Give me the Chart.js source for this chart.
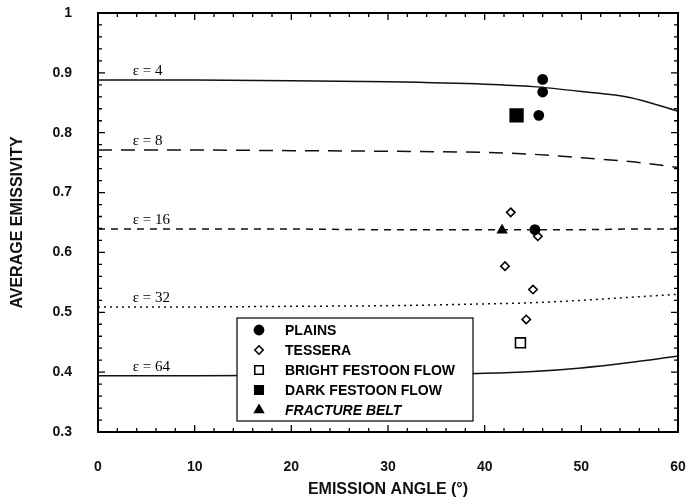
<!DOCTYPE html>
<html>
<head>
<meta charset="utf-8">
<script src="https://cdn.jsdelivr.net/npm/chart.js@4.4.1/dist/chart.umd.min.js"></script>
<style>
  html, body { margin: 0; background: #fff; }
  #wrap { width: 686px; height: 502px; }
</style>
</head>
<body>
<div id="wrap"><canvas id="chart"></canvas></div>
<script>
// ---- Data ----
const angles = [0, 10, 20, 30, 40, 45, 50, 55, 60];
const eps4  = [0.888, 0.888, 0.887, 0.885, 0.881, 0.877, 0.869, 0.859, 0.836];
const eps8  = [0.771, 0.771, 0.770, 0.769, 0.767, 0.764, 0.758, 0.752, 0.742];
const eps16 = [0.639, 0.639, 0.639, 0.638, 0.638, 0.638, 0.638, 0.639, 0.639];
const eps32 = [0.509, 0.509, 0.510, 0.511, 0.514, 0.516, 0.520, 0.525, 0.530];
const eps64 = [0.394, 0.394, 0.395, 0.396, 0.398, 0.401, 0.407, 0.416, 0.427];
const curveNames = ["\u03b5 = 4", "\u03b5 = 8", "\u03b5 = 16", "\u03b5 = 32", "\u03b5 = 64"];

const plainsX = [46.0, 46.0, 45.6, 45.2];
const plainsY = [0.889, 0.868, 0.829, 0.638];
const tesseraX = [42.7, 45.5, 42.1, 45.0, 44.3];
const tesseraY = [0.667, 0.627, 0.577, 0.538, 0.488];
const brightX = [43.7];
const brightY = [0.449];
const darkX = [43.3];
const darkY = [0.829];
const fractureX = [41.8];
const fractureY = [0.637];
const legendLabels = ["PLAINS", "TESSERA", "BRIGHT FESTOON FLOW", "DARK FESTOON FLOW", "FRACTURE BELT"];

const xTicks = [0, 10, 20, 30, 40, 50, 60];
const yTicks = [0.3, 0.4, 0.5, 0.6, 0.7, 0.8, 0.9, 1];

// ---- Helpers ----
const toPts = (xs, ys) => xs.map((v, i) => ({ x: v, y: ys[i] }));
const curveSeries = [eps4, eps8, eps16, eps32, eps64];
const curveDash = [[], [14, 9], [7, 6], [2, 4], []];

const curveSets = curveSeries.map((vals, i) => ({
  label: curveNames[i],
  data: toPts(angles, vals),
  showLine: true,
  borderColor: "#111",
  borderWidth: 1.5,
  borderDash: curveDash[i],
  pointRadius: 0,
  cubicInterpolationMode: "monotone",
  fill: false
}));

const markerSets = [
  { data: toPts(plainsX, plainsY), pointStyle: "circle", pointRadius: 4.6, filled: true },
  { data: toPts(tesseraX, tesseraY), pointStyle: "rectRot", pointRadius: 4.2, filled: false },
  { data: toPts(brightX, brightY), pointStyle: "rect", pointRadius: 7, filled: false },
  { data: toPts(darkX, darkY), pointStyle: "rect", pointRadius: 9, filled: true },
  { data: toPts(fractureX, fractureY), pointStyle: "triangle", pointRadius: 5, filled: true }
].map((m, i) => ({
  label: legendLabels[i],
  data: m.data,
  showLine: false,
  pointStyle: m.pointStyle,
  pointRadius: m.pointRadius,
  pointBorderWidth: 1.6,
  pointBorderColor: "#000",
  pointBackgroundColor: m.filled ? "#000" : "#fff"
}));

// frame with inward ticks on all four sides
const frameTicks = {
  id: "frameTicks",
  afterDraw(chart) {
    const { ctx, chartArea: a, scales: { x, y } } = chart;
    ctx.save();
    ctx.strokeStyle = "#000";
    ctx.lineWidth = 2;
    ctx.strokeRect(a.left, a.top, a.right - a.left, a.bottom - a.top);
    ctx.lineWidth = 1.3;
    ctx.beginPath();
    for (let v = 0; v <= 60; v += 2) {
      const px = x.getPixelForValue(v);
      const len = v % 10 === 0 ? 7 : 4;
      ctx.moveTo(px, a.bottom); ctx.lineTo(px, a.bottom - len);
      ctx.moveTo(px, a.top); ctx.lineTo(px, a.top + len);
    }
    for (let i = 0; i <= 35; i++) {
      const py = y.getPixelForValue(0.3 + i * 0.02);
      const len = i % 5 === 0 ? 7 : 4;
      ctx.moveTo(a.left, py); ctx.lineTo(a.left + len, py);
      ctx.moveTo(a.right, py); ctx.lineTo(a.right - len, py);
    }
    ctx.stroke();
    ctx.restore();
  }
};

// "ε = n" labels just above the curves
const curveLabels = {
  id: "curveLabels",
  afterDatasetsDraw(chart) {
    const { ctx, scales: { x, y } } = chart;
    ctx.save();
    ctx.font = '15px "Liberation Serif", "DejaVu Serif", serif';
    ctx.fillStyle = "#000";
    ctx.textBaseline = "alphabetic";
    curveSeries.forEach((vals, i) => {
      ctx.fillText(curveNames[i], x.getPixelForValue(3.6), y.getPixelForValue(vals[0]) - 5);
    });
    ctx.restore();
  }
};

function drawMarker(ctx, ds, cx, cy) {
  ctx.fillStyle = ds.pointBackgroundColor;
  ctx.strokeStyle = ds.pointBorderColor;
  ctx.lineWidth = ds.pointBorderWidth;
  const r = Math.min(ds.pointRadius, 6);
  Chart.helpers.drawPoint(ctx, { pointStyle: ds.pointStyle, radius: r, rotation: 0, borderWidth: ds.pointBorderWidth }, cx, cy);
}

// boxed legend inside the plot, white fill covers the curves
const boxLegend = {
  id: "boxLegend",
  afterDatasetsDraw(chart) {
    const { ctx, chartArea: a } = chart;
    const left = a.left + 139, top = a.top + 305, w = 236, h = 103;
    ctx.save();
    ctx.fillStyle = "#fff";
    ctx.fillRect(left, top, w, h);
    ctx.strokeStyle = "#000";
    ctx.lineWidth = 1.2;
    ctx.strokeRect(left, top, w, h);
    ctx.textBaseline = "middle";
    legendLabels.forEach((txt, i) => {
      const cy = top + 12 + i * 20;
      drawMarker(ctx, markerSets[i], left + 22, cy);
      ctx.fillStyle = "#000";
      ctx.font = (i === 4 ? "italic " : "") + 'bold 14px "Liberation Sans", Arial, sans-serif';
      ctx.fillText(txt, left + 48, cy + 1);
    });
    ctx.restore();
  }
};

// ---- Chart.js ----
const tickFont = { family: '"Liberation Sans", Arial, sans-serif', size: 14, weight: "bold" };
const titleFont = { family: '"Liberation Sans", Arial, sans-serif', size: 16, weight: "bold" };

// keep the plot box fixed: no extra room reserved for edge tick labels
const noEdgePadding = s => {
  s.paddingTop = 0; s.paddingBottom = 0; s.paddingLeft = 0; s.paddingRight = 0;
};

new Chart(document.getElementById("chart"), {
  type: "scatter",
  data: { datasets: [...curveSets, ...markerSets] },
  options: {
    responsive: true,
    maintainAspectRatio: false,
    animation: false,
    layout: { autoPadding: false, padding: { top: 13, right: 8, left: 0, bottom: 0 } },
    plugins: { legend: { display: false }, tooltip: { enabled: false } },
    scales: {
      x: {
        type: "linear",
        min: 0,
        max: 60,
        afterBuildTicks: s => { s.ticks = xTicks.map(v => ({ value: v })); },
        afterFit: s => { s.height = 70; noEdgePadding(s); },
        grid: { display: false, drawTicks: false },
        border: { display: false },
        ticks: { font: tickFont, color: "#111", padding: 27, maxRotation: 0 },
        title: { display: true, text: "EMISSION ANGLE (\u00b0)", font: titleFont, color: "#111", padding: { top: 0, bottom: 3 } }
      },
      y: {
        type: "linear",
        min: 0.3,
        max: 1,
        afterBuildTicks: s => { s.ticks = yTicks.map(v => ({ value: v })); },
        afterFit: s => { s.width = 98; noEdgePadding(s); },
        grid: { display: false, drawTicks: false },
        border: { display: false },
        ticks: { font: tickFont, color: "#111", padding: 26, callback: v => String(Math.round(v * 10) / 10) },
        title: { display: true, text: "AVERAGE EMISSIVITY", font: titleFont, color: "#111", padding: { top: 8, bottom: 0 } }
      }
    }
  },
  plugins: [frameTicks, curveLabels, boxLegend]
});
</script>
</body>
</html>
